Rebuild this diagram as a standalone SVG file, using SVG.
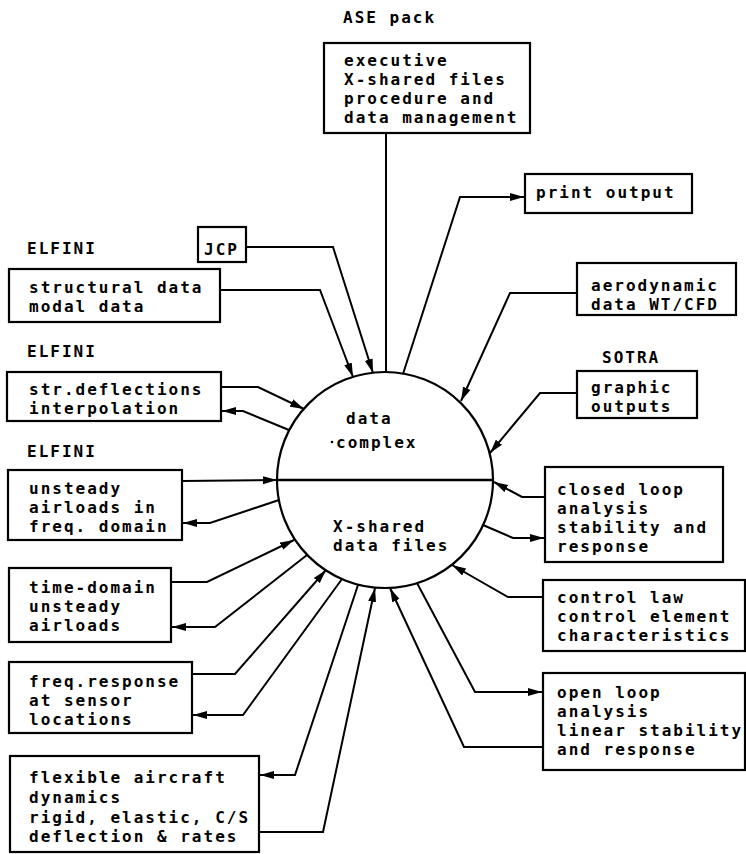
<svg xmlns="http://www.w3.org/2000/svg" width="746" height="854" viewBox="0 0 746 854">
<style>
.box{fill:#fff;stroke:#000;stroke-width:2.2}
.ln{fill:none;stroke:#000;stroke-width:2;stroke-linejoin:miter}
.t{font-family:"DejaVu Sans Mono","Liberation Mono",monospace;font-size:16px;letter-spacing:2px;fill:#000;font-weight:bold}
</style>
<defs>
<marker id="ah" markerUnits="userSpaceOnUse" markerWidth="15" markerHeight="9" refX="14" refY="4.5" orient="auto" viewBox="0 0 15 9">
<path d="M0,0.5 L14,4.5 L0,8.5 Z" fill="#000"/>
</marker>
</defs>
<rect width="746" height="854" fill="#fff"/>
<g id="connectors">
<path class="ln" d="M386,133 L386,372"/>
<path class="ln" d="M403,374 L460,197 L524,197" marker-end="url(#ah)"/>
<path class="ln" d="M246,247 L333,247 L373,373" marker-end="url(#ah)"/>
<path class="ln" d="M220,290 L320,290 L353,377" marker-end="url(#ah)"/>
<path class="ln" d="M577,293 L510,293 L461,401" marker-end="url(#ah)"/>
<path class="ln" d="M221,387 L258,387 L304,409" marker-end="url(#ah)"/>
<path class="ln" d="M289,430 L243,411 L222,411" marker-end="url(#ah)"/>
<path class="ln" d="M182,481 L277,480" marker-end="url(#ah)"/>
<path class="ln" d="M279,500 L210,523 L183,523" marker-end="url(#ah)"/>
<path class="ln" d="M171,582 L207,582 L294,540" marker-end="url(#ah)"/>
<path class="ln" d="M307,555 L215,627 L172,627" marker-end="url(#ah)"/>
<path class="ln" d="M192,674 L235,674 L326,570" marker-end="url(#ah)"/>
<path class="ln" d="M342,579 L243,715 L193,715" marker-end="url(#ah)"/>
<path class="ln" d="M358,585 L295,775 L260,775" marker-end="url(#ah)"/>
<path class="ln" d="M259,832 L323,832 L375,588" marker-end="url(#ah)"/>
<path class="ln" d="M543,747 L464,747 L390,588" marker-end="url(#ah)"/>
<path class="ln" d="M417,583 L475,692 L542,692" marker-end="url(#ah)"/>
<path class="ln" d="M543,597 L508,597 L452,565" marker-end="url(#ah)"/>
<path class="ln" d="M483,525 L513,538 L544,538" marker-end="url(#ah)"/>
<path class="ln" d="M545,497 L522,497 L494,482" marker-end="url(#ah)"/>
<path class="ln" d="M577,393 L540,393 L490,453" marker-end="url(#ah)"/>
</g>
<g id="center">
<circle cx="385" cy="480" r="108" fill="none" stroke="#000" stroke-width="2.2"/>
<path d="M277,480 L493,480" stroke="#000" stroke-width="2.6"/>
<circle cx="332" cy="442" r="1.3" fill="#000"/>
<text class="t" x="346" y="424">data</text>
<text class="t" x="336" y="448">complex</text>
<text class="t" x="333" y="532">X-shared</text>
<text class="t" x="333" y="551">data files</text>
</g>
<g id="ase">
<text class="t" x="343" y="23">ASE pack</text>
<rect class="box" x="324" y="43" width="206" height="90"/>
<text class="t" x="344" y="66">executive</text>
<text class="t" x="344" y="85">X-shared files</text>
<text class="t" x="344" y="104">procedure and</text>
<text class="t" x="344" y="123">data management</text>
</g>
<g id="print">
<rect class="box" x="525" y="174" width="167" height="39"/>
<text class="t" x="536" y="198">print output</text>
</g>
<g id="jcp">
<rect class="box" x="198" y="227" width="48" height="35"/>
<text class="t" x="204" y="255">JCP</text>
</g>
<g id="structural">
<text class="t" x="27" y="254">ELFINI</text>
<rect class="box" x="9" y="269" width="211" height="53"/>
<text class="t" x="29" y="293">structural data</text>
<text class="t" x="29" y="312">modal data</text>
</g>
<g id="aero">
<rect class="box" x="577" y="263" width="159" height="52"/>
<text class="t" x="591" y="290.5">aerodynamic</text>
<text class="t" x="591" y="309.5">data WT/CFD</text>
</g>
<g id="strdef">
<text class="t" x="27" y="357">ELFINI</text>
<rect class="box" x="7" y="372" width="214" height="49"/>
<text class="t" x="29" y="394.5">str.deflections</text>
<text class="t" x="29" y="413.5">interpolation</text>
</g>
<g id="graphic">
<text class="t" x="602" y="363">SOTRA</text>
<rect class="box" x="577" y="371" width="120" height="47"/>
<text class="t" x="591" y="392.5">graphic</text>
<text class="t" x="591" y="411.5">outputs</text>
</g>
<g id="unsteady">
<text class="t" x="27" y="457">ELFINI</text>
<rect class="box" x="8" y="470" width="174" height="70"/>
<text class="t" x="29" y="494">unsteady</text>
<text class="t" x="29" y="513">airloads in</text>
<text class="t" x="29" y="532">freq. domain</text>
</g>
<g id="closed">
<rect class="box" x="545" y="467" width="178" height="95"/>
<text class="t" x="557" y="495">closed loop</text>
<text class="t" x="557" y="514">analysis</text>
<text class="t" x="557" y="533">stability and</text>
<text class="t" x="557" y="552">response</text>
</g>
<g id="timedomain">
<rect class="box" x="9" y="568" width="162" height="74"/>
<text class="t" x="29" y="593">time-domain</text>
<text class="t" x="29" y="612">unsteady</text>
<text class="t" x="29" y="631">airloads</text>
</g>
<g id="control">
<rect class="box" x="543" y="580" width="202" height="71"/>
<text class="t" x="557" y="603">control law</text>
<text class="t" x="557" y="622">control element</text>
<text class="t" x="557" y="641">characteristics</text>
</g>
<g id="freq">
<rect class="box" x="9" y="662" width="183" height="71"/>
<text class="t" x="29" y="687">freq.response</text>
<text class="t" x="29" y="706">at sensor</text>
<text class="t" x="29" y="725">locations</text>
</g>
<g id="open">
<rect class="box" x="543" y="673" width="202" height="97"/>
<text class="t" x="557" y="698">open loop</text>
<text class="t" x="557" y="717">analysis</text>
<text class="t" x="557" y="736">linear stability</text>
<text class="t" x="557" y="755">and response</text>
</g>
<g id="flexible">
<rect class="box" x="10" y="756" width="249" height="96"/>
<text class="t" x="29" y="783">flexible aircraft</text>
<text class="t" x="29" y="803">dynamics</text>
<text class="t" x="29" y="823">rigid, elastic, C/S</text>
<text class="t" x="29" y="842">deflection &amp; rates</text>
</g>
</svg>
